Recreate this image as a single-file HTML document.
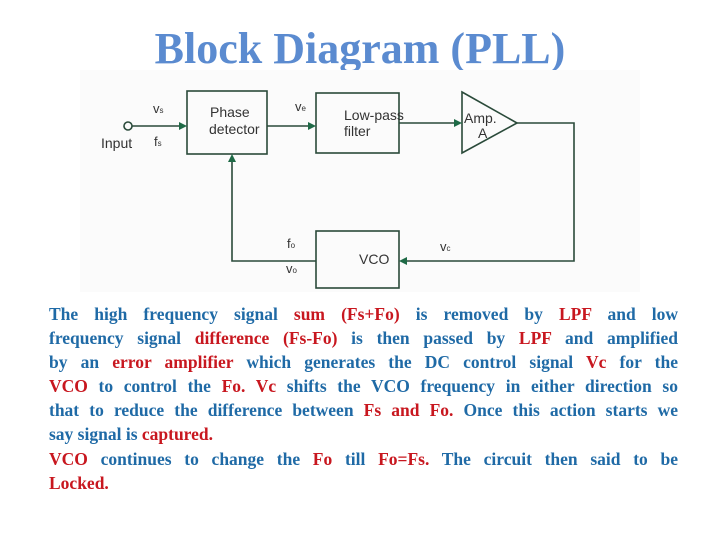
<!DOCTYPE html>
<html><head><style>
body{margin:0;width:720px;height:540px;background:#fff;position:relative;overflow:hidden;font-family:"Liberation Serif",serif}
#t{position:absolute;left:0;width:720px;top:23px;text-align:center;font-weight:bold;font-size:44px;color:#5b8bd0;line-height:52px}
#p{position:absolute;left:49px;top:302px;width:629px;font-weight:bold;font-size:17.5px;line-height:24.1px;color:#1f6aa6}
#p div{text-align:justify;text-align-last:justify;white-space:nowrap}
#p div.l{text-align-last:left}
.r{color:#c8171f}
svg{position:absolute;left:0;top:0}
</style></head><body>
<div id="t">Block Diagram (PLL)</div>
<svg width="720" height="300" font-family="Liberation Sans, sans-serif" font-size="13" fill="#333">
<rect x="80" y="70" width="560" height="222" fill="#fbfbfb"/>
<g stroke="#2a4a3a" stroke-width="1.6" fill="none">
<rect x="187" y="91" width="80" height="63"/>
<rect x="316" y="93" width="83" height="60"/>
<rect x="316" y="231" width="83" height="57"/>
<polygon points="462,92 517,123 462,153"/>
<circle cx="128" cy="126" r="4"/>
<line x1="132" y1="126" x2="182" y2="126"/>
<line x1="267" y1="126" x2="311" y2="126"/>
<line x1="399" y1="123" x2="457" y2="123"/>
<polyline points="517,123 574,123 574,261 404,261"/>
<polyline points="316,261 232,261 232,159"/>
</g>
<g fill="#1e6a46">
<polygon points="187,126 179,122 179,130"/>
<polygon points="316,126 308,122 308,130"/>
<polygon points="462,123 454,119 454,127"/>
<polygon points="399,261 407,257 407,265"/>
<polygon points="232,154 228,162 236,162"/>
</g>
<text x="101" y="148" font-size="14">Input</text>
<text x="153" y="113">v<tspan font-size="8">s</tspan></text>
<text x="154" y="146">f<tspan font-size="8">s</tspan></text>
<text x="210" y="117" font-size="14">Phase</text>
<text x="209" y="134" font-size="14">detector</text>
<text x="295" y="111">v<tspan font-size="8">e</tspan></text>
<text x="344" y="120" font-size="14">Low-pass</text>
<text x="344" y="136" font-size="14">filter</text>
<text x="464" y="123" font-size="14">Amp.</text>
<text x="478" y="138" font-size="14">A</text>
<text x="287" y="248">f<tspan font-size="8">o</tspan></text>
<text x="286" y="273">v<tspan font-size="8">o</tspan></text>
<text x="359" y="264" font-size="14">VCO</text>
<text x="440" y="251">v<tspan font-size="8">c</tspan></text>
</svg>
<div id="p">
<div>The high frequency signal <span class="r">sum (Fs+Fo)</span> is removed by <span class="r">LPF</span> and low</div>
<div>frequency signal <span class="r">difference (Fs-Fo)</span> is then passed by <span class="r">LPF</span> and amplified</div>
<div>by an <span class="r">error amplifier</span> which generates the DC control signal <span class="r">Vc</span> for the</div>
<div><span class="r">VCO</span> to control the <span class="r">Fo. Vc</span> shifts the VCO frequency in either direction so</div>
<div>that to reduce the difference between <span class="r">Fs and Fo.</span> Once this action starts we</div>
<div class="l">say signal is <span class="r">captured.</span></div>
<div><span class="r">VCO</span> continues to change the <span class="r">Fo</span> till <span class="r">Fo=Fs.</span> The circuit then said to be</div>
<div class="l"><span class="r">Locked.</span></div>
</div>
</body></html>
